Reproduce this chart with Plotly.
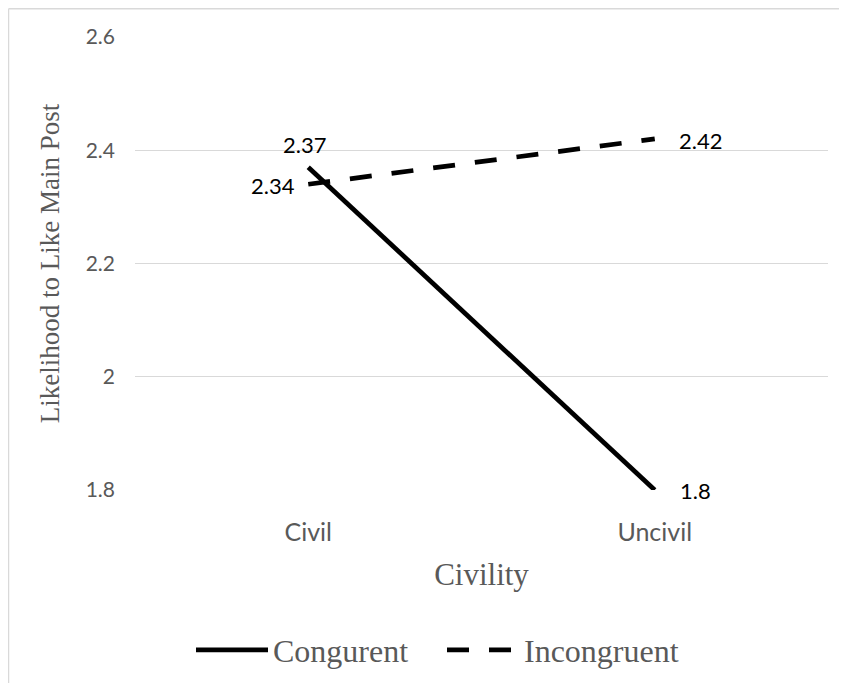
import plotly.graph_objects as go

categories = ["Civil", "Uncivil"]
congruent = [2.37, 1.8]
incongruent = [2.34, 2.42]
congruent_labels = ["2.37", "1.8"]
incongruent_labels = ["2.34", "2.42"]
y_ticks = [1.8, 2.0, 2.2, 2.4, 2.6]
y_tick_text = ["1.8", "2", "2.2", "2.4", "2.6"]

# the page places the figure 8px in from each edge
OFF = 8
W, H = 847 - 2 * OFF, 691 - 2 * OFF
ML, MT = 135 - OFF, 37 - OFF
MR = W - (828 - OFF)
MB = H - (490 - OFF)
PW, PH = W - ML - MR, H - MT - MB


def page2paper_x(px):
    return (px - OFF - ML) / PW


def page2paper_y(py):
    return (H - MB - (py - OFF)) / PH


CAL = "Lato, Carlito, Calibri, sans-serif"
SERIF = "Liberation Serif, Times New Roman, serif"
GREY = "#595959"
label_font = dict(family=CAL, size=22, color="#000000")

fig = go.Figure()
fig.add_trace(go.Scatter(
    x=categories, y=congruent, name="Congurent", mode="lines",
    line=dict(color="#000000", width=4.75), cliponaxis=False,
))
fig.add_trace(go.Scatter(
    x=categories, y=incongruent, name="Incongruent", mode="lines",
    line=dict(color="#000000", width=4.75, dash="22px,20px"), cliponaxis=False,
))

# data labels anchored to data points (offsets only)
label_style = [
    (categories[0], congruent[0], congruent_labels[0], "center", -4, 23),
    (categories[1], congruent[1], congruent_labels[1], "left", 23, 0),
    (categories[0], incongruent[0], incongruent_labels[0], "right", -11, -1),
    (categories[1], incongruent[1], incongruent_labels[1], "left", 22, -2),
]
annotations = []
for xv, yv, txt, xa, xs, ys in label_style:
    annotations.append(dict(
        x=xv, y=yv, xref="x", yref="y", text=txt, showarrow=False,
        xanchor=xa, yanchor="middle", xshift=xs, yshift=ys, font=label_font,
    ))

frame = dict(color="#d9d9d9", width=1.5)
fig.update_layout(
    width=W, height=H,
    margin=dict(l=ML, r=MR, t=MT, b=MB, autoexpand=False),
    paper_bgcolor="white", plot_bgcolor="white",
    showlegend=True,
    legend=dict(
        orientation="h", x=page2paper_x(191), xanchor="left",
        y=page2paper_y(650), yanchor="middle",
        font=dict(family=SERIF, size=32, color=GREY),
        itemwidth=72, entrywidthmode="pixels", entrywidth=164,
        bgcolor="rgba(0,0,0,0)",
    ),
    xaxis=dict(
        type="category", range=[-0.5, 1.5], showgrid=False, showline=False, zeroline=False,
        ticks="", ticklabelstandoff=25,
        tickfont=dict(family=CAL, size=25, color=GREY),
        title=dict(text="Civility", standoff=18,
                   font=dict(family=SERIF, size=31, color=GREY)),
        automargin=False,
    ),
    yaxis=dict(
        range=[1.8, 2.6], tickvals=y_ticks, ticktext=y_tick_text,
        showgrid=True, gridcolor="#d9d9d9", gridwidth=1.3, zeroline=False, showline=False,
        ticks="", ticklabelstandoff=19,
        tickfont=dict(family=CAL, size=21, color=GREY),
        title=dict(text="Likelihood to Like Main Post", standoff=18,
                   font=dict(family=SERIF, size=27, color=GREY)),
        automargin=False,
    ),
    annotations=annotations,
    shapes=[
        dict(type="line", xref="paper", yref="paper",
             x0=page2paper_x(8.5), x1=page2paper_x(900),
             y0=page2paper_y(8.75), y1=page2paper_y(8.75), line=frame, layer="below"),
        dict(type="line", xref="paper", yref="paper",
             x0=page2paper_x(8.5), x1=page2paper_x(8.5),
             y0=page2paper_y(8.75), y1=page2paper_y(760), line=frame, layer="below"),
    ],
)

fig.write_html("out.html")
